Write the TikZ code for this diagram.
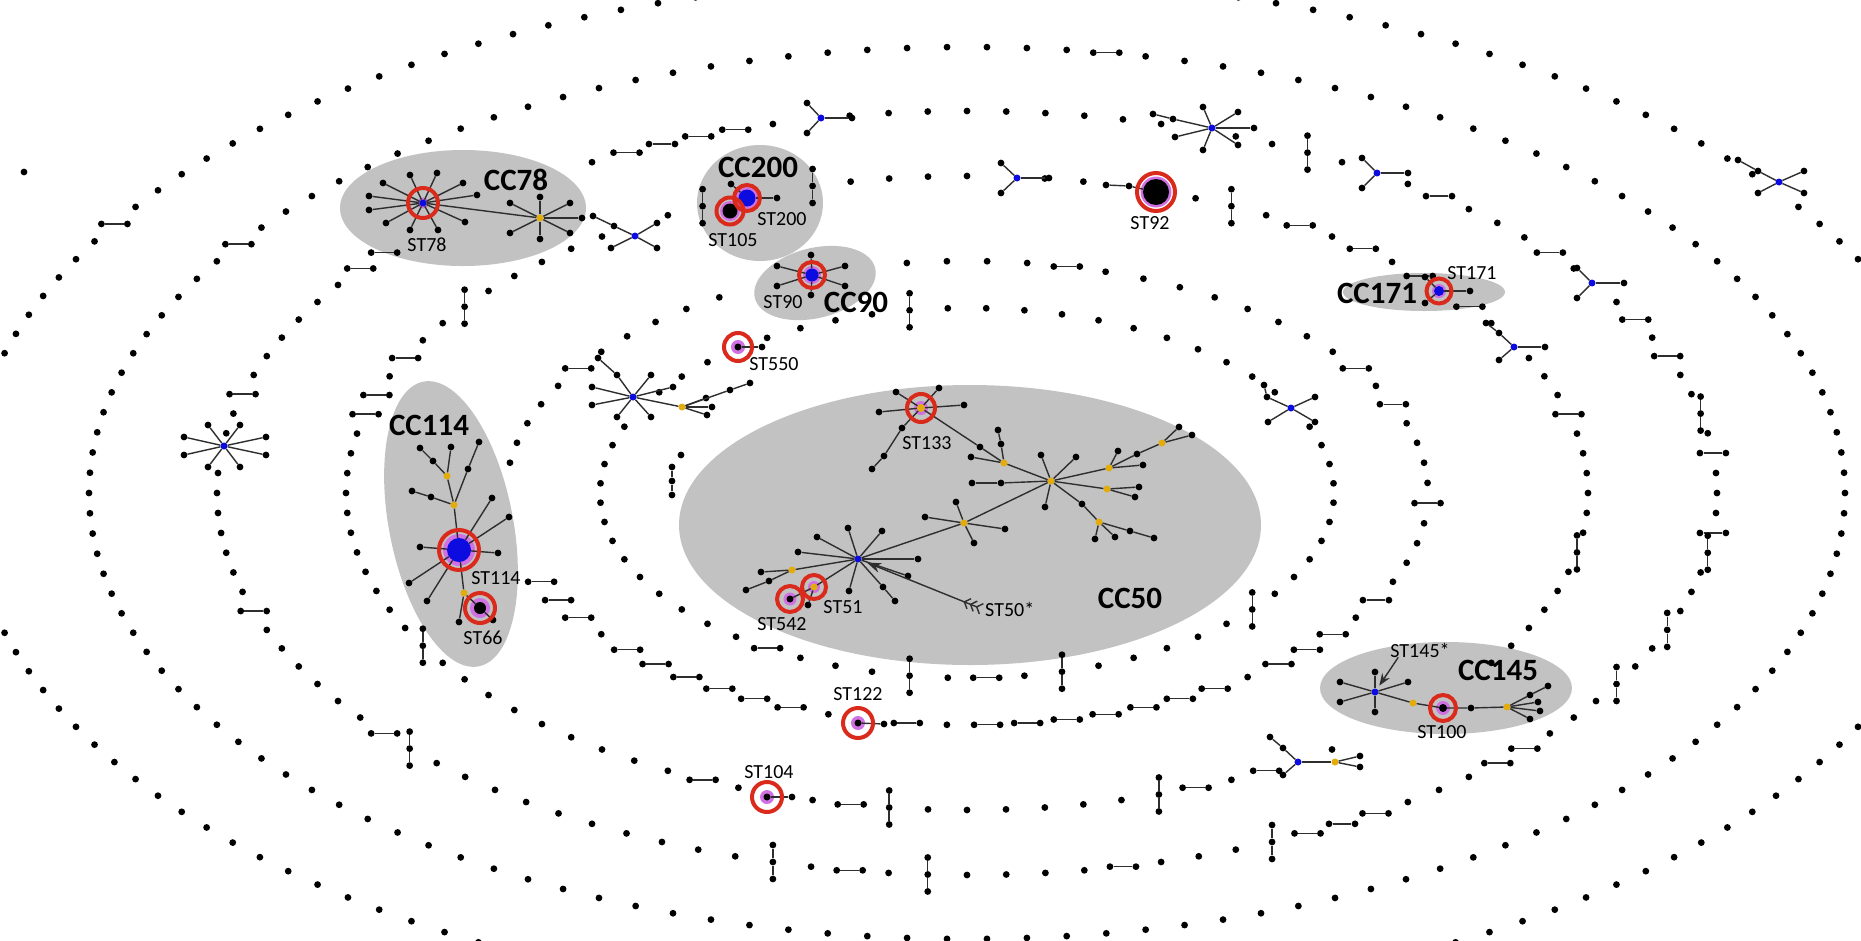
\documentclass[tikz,border=0pt]{standalone}
\usepackage{fontspec}
\setmainfont{Carlito}
\usetikzlibrary{arrows.meta, positioning, calc}

\definecolor{ccgray}{RGB}{194,194,194}
\definecolor{stred}{RGB}{218,42,28}
\definecolor{stblue}{RGB}{12,12,225}
\definecolor{styel}{RGB}{228,172,10}
\definecolor{sthalo}{RGB}{208,112,226}

\tikzset{
  dot/.style={circle, fill=black, inner sep=0pt, minimum size=6.8pt},
  bhub/.style={circle, fill=stblue, inner sep=0pt, minimum size=7pt},
  yhub/.style={circle, fill=styel, inner sep=0pt, minimum size=7pt},
  link/.style={draw=black!82, line width=1.4pt},
  blob/.style={fill=ccgray},
  redring/.style={circle, draw=stred, line width=4pt, inner sep=0pt},
  stlab/.style={font=\fontsize{20}{20}\selectfont, inner sep=0pt},
  cclab/.style={font=\fontsize{31}{31}\selectfont\bfseries, inner sep=0pt},
}

% rings of the spiral: rx, ry, slots, phase
\newcommand\ringdef[5]{%
  \expandafter\def\csname rx#1\endcsname{#2}%
  \expandafter\def\csname ry#1\endcsname{#3}%
  \expandafter\def\csname rn#1\endcsname{#4}%
  \expandafter\def\csname ph#1\endcsname{#5}}
\ringdef{1}{1000}{515}{160}{0}
\ringdef{2}{878}{446}{138}{0}
\ringdef{3}{750}{382}{120}{0}
\ringdef{4}{621}{317}{100}{0}
\ringdef{5}{461}{232}{72}{2.5}
\ringdef{6}{367}{185}{60}{3}

\newcommand\getring[1]{%
  \edef\ringrx{\csname rx#1\endcsname}\edef\ringry{\csname ry#1\endcsname}%
  \edef\ringn{\csname rn#1\endcsname}\edef\ringph{\csname ph#1\endcsname}%
  \pgfmathsetmacro\ringstep{360/\ringn}}

% free the slot of a ring nearest to an angle
\newcommand\skipslot[2]{%
  \getring{#1}%
  \pgfmathtruncatemacro\ringslot{mod(round((#2-\ringph)/\ringstep)+\ringn,\ringn)}%
  \pgfmathsetmacro\ringang{\ringph+\ringslot*\ringstep}%
  \expandafter\gdef\csname skip-#1-\ringslot\endcsname{}}

\newcommand\ringpair[2]{%
  \skipslot{#1}{#2}%
  \coordinate (p) at ({967+\ringrx*cos(\ringang)},{493+\ringry*sin(\ringang)});
  \node[dot] (pl) at ($(p)+(-13,0)$) {};
  \node[dot] (pr) at ($(p)+(13,0)$) {};
  \draw[link] (pl) -- (pr);}

\newcommand\ringtriple[2]{%
  \skipslot{#1}{#2}%
  \coordinate (p) at ({967+\ringrx*cos(\ringang)},{493+\ringry*sin(\ringang)});
  \node[dot] (tA) at ($(p)+(0,-17)$) {};
  \node[dot] (tB) at (p) {};
  \node[dot] (tC) at ($(p)+(0,17)$) {};
  \draw[link] (tA) -- (tB) -- (tC);}

\newcommand\leaves[2]{%
  \foreach \lx/\ly [count=\j] in {#2}{%
    \node[dot] (#1-\j) at (\lx,\ly) {};
    \draw[link] (#1) -- (#1-\j);}}

\newcommand\spokes[2]{%
  \foreach \ox/\oy [count=\j] in {#2}{%
    \node[dot] (#1-\j) at ($(#1)+(\ox,\oy)$) {};
    \draw[link] (#1) -- (#1-\j);}}

\newcommand\stcore[5]{%
  \node[circle, fill=sthalo, inner sep=0pt, minimum size=#5pt] at #2 {};
  \node[circle, fill=#3, inner sep=0pt, minimum size=#4pt] (#1) at #2 {};}

\begin{document}
\begin{tikzpicture}[x=1pt, y=-1pt]
\useasboundingbox (0,0) rectangle (1861,940);
\fill[white] (0,0) rectangle (1861,940);
\clip (0,0) rectangle (1861,940);

% clonal complexes
\fill[blob] (463,208) ellipse [x radius=123, y radius=58];
\fill[blob] (760,203) ellipse [x radius=63, y radius=58];
\fill[blob] (815,283) ellipse [x radius=62, y radius=35, rotate=14];
\fill[blob] (451,524) ellipse [x radius=62, y radius=145, rotate=11];
\fill[blob] (970,525) ellipse [x radius=291, y radius=140];
\fill[blob] (1446,688) ellipse [x radius=126, y radius=46];
\fill[blob] (1424,292) ellipse [x radius=81, y radius=19];

% pairs and triples on the rings
\ringpair{1}{210.4}
\ringpair{2}{214.2}
\ringpair{2}{279}
\foreach \ang in {162,195,216,219,243,246,249,252,309,321,333,339,354,6,42,45,57,60,63,78,99,141}{\ringpair{3}{\ang}}
\foreach \ang in {297,348,9,21,30,66,93,105,138}{\ringtriple{3}{\ang}}
\foreach \ang in {194.4,198,205.2,302.4,309.6,316.8,324,345.6,61.2,68.4,100.8,115.2}{\ringpair{4}{\ang}}
\foreach \ang in {151.2,216,244.8,255.6,295.2,10.8,72,97.2}{\ringtriple{4}{\ang}}
\foreach \ang in {2.5,27.5,37.5,42.5,47.5,57.5,62.5,67.5,72.5,77.5,82.5,87.5,97.5,112.5,117.5,122.5,127.5,132.5,137.5,147.5,152.5,157.5,212.5,282.5,327.5,337.5}{\ringpair{5}{\ang}}
\foreach \ang in {87,123}{\ringpair{6}{\ang}}
\foreach \ang in {39,75,99,261}{\ringtriple{6}{\ang}}

% slots taken by stars and sequence types
\skipslot{1}{324}
\foreach \ang in {186,222,225,228,231,234,237,258,288,303,327}{\skipslot{3}{\ang}}
\foreach \ang in {237.6,248.4,252,273.6,284.4,288,320.4,331.2,36,39.6,43.2,46.8,50.4,57.6,108}{\skipslot{4}{\ang}}
\foreach \ang in {102.5,162.5,167.5,172.5,177.5,182.5,242.5,247.5,252.5,257.5}{\skipslot{5}{\ang}}
\foreach \ang in {207,231,333}{\skipslot{6}{\ang}}

% single STs along the rings
\foreach \k in {1,...,6}{
  \getring{\k}
  \pgfmathtruncatemacro\ringlast{\ringn-1}
  \foreach \i in {0,...,\ringlast}{
    \ifcsname skip-\k-\i\endcsname\else
      \fill ({967+\ringrx*cos(\ringph+\i*\ringstep)},{493+\ringry*sin(\ringph+\i*\ringstep)}) circle [radius=3.4];
    \fi}}
\node[dot] (far) at (24,172) {};
\node[dot] (in1) at (681,455) {};
\node[dot] (in2) at (672,467) {};
\node[dot] (in3) at (672,481) {};
\node[dot] (in4) at (672,495) {};
\draw[link] (in2) -- (in3) -- (in4);

% small groups on the rings
\node[bhub] (sa) at (224,446) {};
\spokes{sa}{-16/-21, 16/-21, -40/-9, 42/-9, -40/9, 42/9, -16/21, 16/21}
\node[bhub] (sb) at (633,397) {};
\spokes{sb}{-16/-22, 18/-22, 40/-10, -41/-10, -41/8, -16/20, 18/20}
\leaves{sb-1}{598/358}
\node[yhub] (sbY) at (682,407) {};
\draw[link] (sb) -- (sbY);
\spokes{sbY}{24/-9, 30/0, 25/8, 48/-17}
\leaves{sbY-4}{750/383}
\node[bhub] (sc) at (1212,128) {};
\spokes{sc}{-9/-21, 26/-16, 42/0, 26/17, -9/22, -37/9, -39/-9}
\leaves{sc-7}{1153/114}
\node[bhub] (ya) at (821,118) {};
\spokes{ya}{-14/-15, -14/15, 31/0}
\node[bhub] (yb) at (1017,178) {};
\spokes{yb}{-16/-15, -16/15, 32/0}
\node[bhub] (yc) at (1377,173) {};
\spokes{yc}{-15/-15, -15/15, 31/0}
\node[bhub] (yd) at (1592,283) {};
\spokes{yd}{-15/-15, -15/15, 32/0}
\node[bhub] (ye) at (1514,347) {};
\spokes{ye}{-15/-14, -15/13, 31/0}
\leaves{ye-1}{1486/323}
\node[bhub] (xa) at (635,236) {};
\spokes{xa}{-21/-10, 22/-13, -24/12, 22/12}
\leaves{xa-1}{593/216}
\node[bhub] (xb) at (1779,182) {};
\spokes{xb}{-21/-11, 25/-11, -21/11, 25/11}
\leaves{xb-1}{1738/160}
\node[bhub] (xc) at (1291,408) {};
\spokes{xc}{-24/-11, 24/-11, -23/14, 24/14}
\leaves{xc-1}{1264/385}
\node[bhub] (yf) at (1298,762) {};
\spokes{yf}{-15/-14, -15/13}
\leaves{yf-1}{1270/737}
\node[yhub] (yfY) at (1335,762) {};
\draw[link] (yf) -- (yfY);
\spokes{yfY}{25/-6, 25/5}

% CC78
\stcore{st78}{(423,203)}{stblue}{7}{11}
\leaves{st78}{410/175, 437/173, 463/183, 477/195, 465/222, 438/230, 410/230, 386/223, 369/210, 369/196, 383/183}
\node[yhub] (y78) at (540,218) {};
\draw[link] (st78) -- (y78);
\leaves{y78}{510/203, 540/197, 570/203, 582/218, 570/233, 540/239, 510/233}
\node[cclab] at (516,180) {CC78};
\node[stlab] at (427,245) {ST78};

% CC200
\stcore{st105}{(730,211)}{black}{15}{20}
\stcore{st200}{(747,198)}{stblue}{17}{22}
\leaves{st200}{731/184, 777/198}
\node[cclab] at (758,167) {CC200};
\node[stlab] at (782,219) {ST200};
\node[stlab] at (733,240) {ST105};

% CC90
\stcore{st90}{(812,275)}{stblue}{13}{18}
\leaves{st90}{777/266, 777/286, 845/266, 845/286, 811/255, 811/295}
\node[stlab] at (783,302) {ST90};
\node[cclab] at (856,302) {CC90};

% CC114
\stcore{st114}{(459,550)}{stblue}{24}{32}
\node[yhub] (y114a) at (447,476) {};
\node[yhub] (y114b) at (454,505) {};
\node[yhub] (y114c) at (464,593) {};
\stcore{st66}{(480,608)}{black}{12}{20}
\draw[link] (st114) -- (y114b) -- (y114a);
\draw[link] (st114) -- (y114c) -- (st66);
\leaves{y114a}{433/461, 451/447}
\leaves{y114a-1}{420/448}
\leaves{y114b}{468/469, 431/497}
\leaves{y114b-1}{479/442}
\leaves{y114b-2}{412/491}
\leaves{st114}{492/498, 509/517, 420/547, 498/553, 409/583, 427/601}
\leaves{y114c}{459/622}
\leaves{st66}{493/620}
\node[cclab] at (429,425) {CC114};
\node[stlab] at (496,578) {ST114};
\node[stlab] at (483,638) {ST66};

% CC50
\node[bhub] (st50) at (858,559) {};
\leaves{st50}{848/528, 882/531, 817/537, 798/552, 918/559, 908/576, 883/587, 849/591}
\leaves{st50-7}{895/601}
\node[yhub] (y50a) at (792,570) {};
\draw[link] (st50) -- (y50a);
\leaves{y50a}{761/572, 769/581}
\leaves{y50a-2}{746/590}
\stcore{st51}{(814,587)}{styel}{7}{12}
\stcore{st542}{(790,599)}{black}{7}{13}
\draw[link] (st50) -- (st51) -- (st542);
\leaves{st51}{808/605}
\node[yhub] (y50b) at (964,523) {};
\draw[link] (st50) -- (y50b);
\leaves{y50b}{925/517, 956/502, 1005/529, 974/543}
\node[yhub] (y50c) at (1051,481) {};
\draw[link] (y50b) -- (y50c);
\leaves{y50c}{1041/455, 1076/457, 1045/507, 1001/483}
\leaves{y50c-4}{972/483}
\node[yhub] (y50d) at (1004,463) {};
\draw[link] (y50c) -- (y50d);
\leaves{y50d}{971/457, 1001/444, 980/447}
\leaves{y50d-2}{998/430}
\stcore{st133}{(921,408)}{styel}{8}{14}
\draw[link] (y50d-3) -- (st133);
\leaves{st133}{879/412, 896/392, 939/388, 964/405, 902/428}
\leaves{st133-5}{884/456}
\leaves{st133-5-1}{872/469}
\node[yhub] (y50e) at (1109,468) {};
\draw[link] (y50c) -- (y50e);
\leaves{y50e}{1118/451, 1143/465, 1137/454}
\node[yhub] (y50f) at (1162,443) {};
\draw[link] (y50e-3) -- (y50f);
\leaves{y50f}{1179/427, 1192/435}
\node[yhub] (y50g) at (1107,489) {};
\draw[link] (y50c) -- (y50g);
\leaves{y50g}{1139/487, 1135/497}
\node[dot] (m50) at (1082,504) {};
\node[yhub] (y50h) at (1099,522) {};
\draw[link] (y50c) -- (m50) -- (y50h);
\leaves{y50h}{1095/539, 1115/537, 1130/531}
\leaves{y50h-3}{1154/538}
\node[cclab] at (1130,598) {CC50};
\node[stlab] at (927,443) {ST133};
\node[stlab] at (843,607) {ST51};
\node[stlab] at (782,624) {ST542};
\node[stlab, anchor=west] (st50lab) at (985,609) {ST50*};
\draw[link, {Straight Barb[reversed,length=5pt,width=11pt] Straight Barb[reversed,length=5pt,width=11pt] Straight Barb[reversed,length=5pt,width=11pt]}-{Stealth[length=14pt,width=10pt]}, shorten >=6pt] ([xshift=-3pt]st50lab.west) -- (st50);

% CC145
\node[bhub] (st145) at (1375,692) {};
\leaves{st145}{1340/682, 1340/702, 1375/672, 1375/712, 1408/682}
\node[yhub] (y145a) at (1413,703) {};
\stcore{st100}{(1443,708)}{black}{8}{14}
\node[dot] (m145) at (1471,708) {};
\node[yhub] (y145b) at (1507,707) {};
\draw[link] (st145) -- (y145a) -- (st100) -- (m145) -- (y145b);
\leaves{y145b}{1530/695, 1538/702, 1540/711, 1530/719}
\leaves{y145b-1}{1548/686}
\node[cclab] at (1498,670) {CC145};
\node[stlab] (st145lab) at (1420,650) {ST145*};
\node[stlab] at (1442,732) {ST100};
\draw[link, -{Stealth[length=12pt,width=9pt]}, shorten >=4pt] ([xshift=8pt]st145lab.south west) -- (st145);

% CC171
\stcore{st171}{(1439,291)}{stblue}{10}{14}
\leaves{st171}{1470/291, 1425/277, 1425/303}
\node[cclab] at (1377,293) {CC171};
\node[stlab] at (1472,273) {ST171};

% single sequence types
\stcore{st92}{(1156,192)}{black}{26}{31}
\node[dot] (st92-1) at (1106,185) {};
\node[dot] (st92-2) at (1129,186) {};
\draw[link] (st92-1) -- (st92-2) -- (st92);
\node[stlab] at (1150,223) {ST92};
\stcore{st550}{(738,347)}{black}{7}{14}
\leaves{st550}{762/347}
\node[stlab] at (774,364) {ST550};
\stcore{st122}{(858,723)}{black}{7}{14}
\leaves{st122}{884/724}
\node[stlab] at (858,694) {ST122};
\stcore{st104}{(767,797)}{black}{7}{14}
\leaves{st104}{792/797}
\node[stlab] at (769,772) {ST104};

% red rings on top
\foreach \n/\d in {st78/30, st105/27, st200/26, st90/26, st114/40, st66/30, st133/28, st51/24, st542/26, st100/26, st171/25, st92/38, st550/28, st122/30, st104/30}{
  \node[redring, minimum size=\d pt] at (\n) {};}
\end{tikzpicture}
\end{document}
